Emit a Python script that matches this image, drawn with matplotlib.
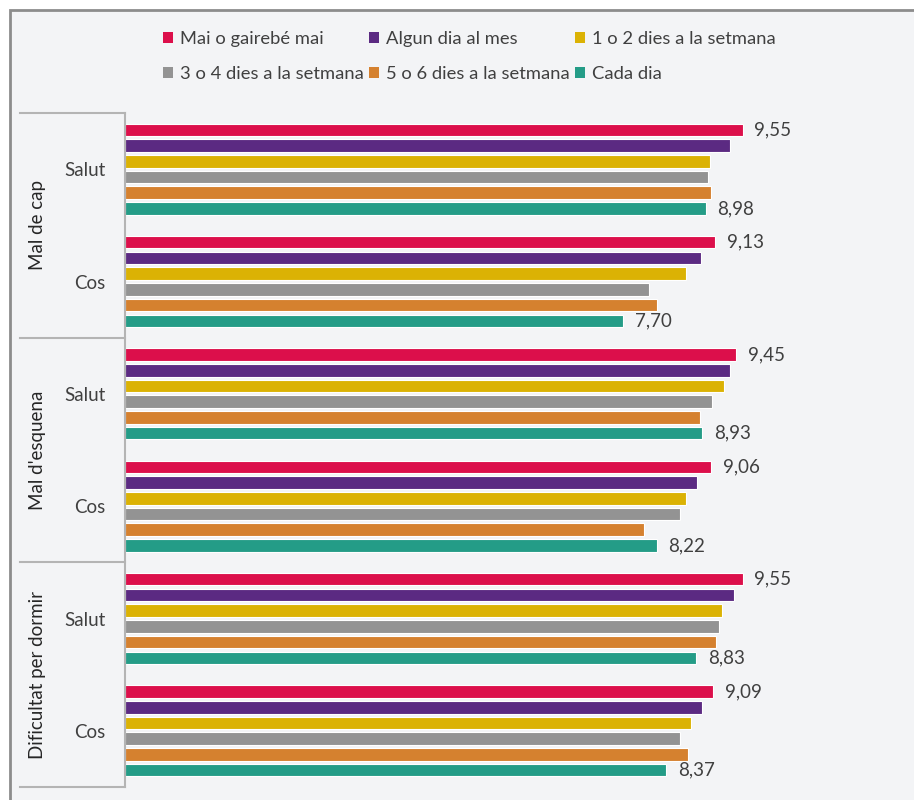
import matplotlib
matplotlib.use("Agg")
import matplotlib.pyplot as plt
from matplotlib.patches import Patch, Rectangle
import numpy as np

plt.rcParams['font.family'] = ['Lato', 'DejaVu Sans']

# dades
grups = ["Mal de cap", "Mal d'esquena", "Dificultat per dormir"]
subcats = ["Salut", "Cos", "Salut", "Cos", "Salut", "Cos"]
series = ["Mai o gairebé mai", "Algun dia al mes", "1 o 2 dies a la setmana",
          "3 o 4 dies a la setmana", "5 o 6 dies a la setmana", "Cada dia"]
colors = ["#dc0f4b", "#5b2a82", "#dbb204", "#939393", "#d5812f", "#249c87"]

mai = [9.55, 9.13, 9.45, 9.06, 9.55, 9.09]
algun = [9.36, 8.91, 9.35, 8.85, 9.41, 8.92]
dies12 = [9.05, 8.68, 9.27, 8.68, 9.23, 8.75]
dies34 = [9.02, 8.11, 9.08, 8.59, 9.19, 8.59]
dies56 = [9.06, 8.22, 8.89, 8.03, 9.14, 8.71]
cada = [8.98, 7.70, 8.93, 8.22, 8.83, 8.37]
valors = [mai, algun, dies12, dies34, dies56, cada]

W, H = 914, 800
fig = plt.figure(figsize=(W / 100, H / 100), dpi=100, facecolor="white")

# marc de fons
fig.patches.append(Rectangle((10 / W, -0.05), 1.1, (H - 10) / H + 0.05,
                             transform=fig.transFigure, facecolor="#f3f4f6",
                             edgecolor="#8c8c8c", linewidth=2, zorder=-5))

ax = fig.add_axes([125 / W, 13 / H, 776 / W, 674 / H])
ax.set_facecolor("none")
ax.set_zorder(2)

y = np.arange(len(subcats))
pas = 0.14
alt = 0.112
for j, (nom, vals, c) in enumerate(zip(series, valors, colors)):
    yy = y + (j - 2.5) * pas
    ax.barh(yy, vals, height=alt, color=c, edgecolor="white", linewidth=0.8, label=nom)
    if j == 0 or j == len(series) - 1:
        for yi, v in zip(yy, vals):
            ax.annotate(f"{v:.2f}".replace(".", ","), (v, yi), xytext=(8.5, 0),
                        textcoords="offset points", va="center", ha="left",
                        fontsize=13.5, color="#404040")

ax.set_xlim(0, 12)
ax.set_ylim(len(subcats) - 0.5, -0.5)
ax.set_xticks([])
ax.set_yticks(y)
ax.set_yticklabels(subcats, fontsize=13.5, color="#404040")
ax.tick_params(axis="y", length=0, pad=14)
for s in ["top", "right", "bottom"]:
    ax.spines[s].set_visible(False)
ax.spines["left"].set_color("#b4b4b4")
ax.spines["left"].set_linewidth(1.5)

tr = ax.get_yaxis_transform()
for b in [-0.5, 1.5, 3.5, 5.5]:
    ax.plot([-105 / 776, 0], [b, b], transform=tr, color="#b4b4b4",
            linewidth=1.5, clip_on=False)
for k, g in enumerate(grups):
    ax.text(-87 / 776, 2 * k + 0.5, g, transform=tr, rotation=90,
            ha="center", va="center", fontsize=13.5, color="#262626")

h = [Patch(facecolor=c, label=s) for s, c in zip(series, colors)]
ordre = [0, 3, 1, 4, 2, 5]
fig.legend([h[i] for i in ordre], [series[i] for i in ordre], ncol=3,
           loc="upper left", bbox_to_anchor=(163 / W, 1 - 31 / H),
           frameon=False, fontsize=13.2, borderpad=0, borderaxespad=0,
           handlelength=0.55, handleheight=0.55, handletextpad=0.4,
           columnspacing=0.25, labelspacing=1.05, labelcolor="#404040")

fig.savefig("out.png", dpi=100, facecolor="white")
